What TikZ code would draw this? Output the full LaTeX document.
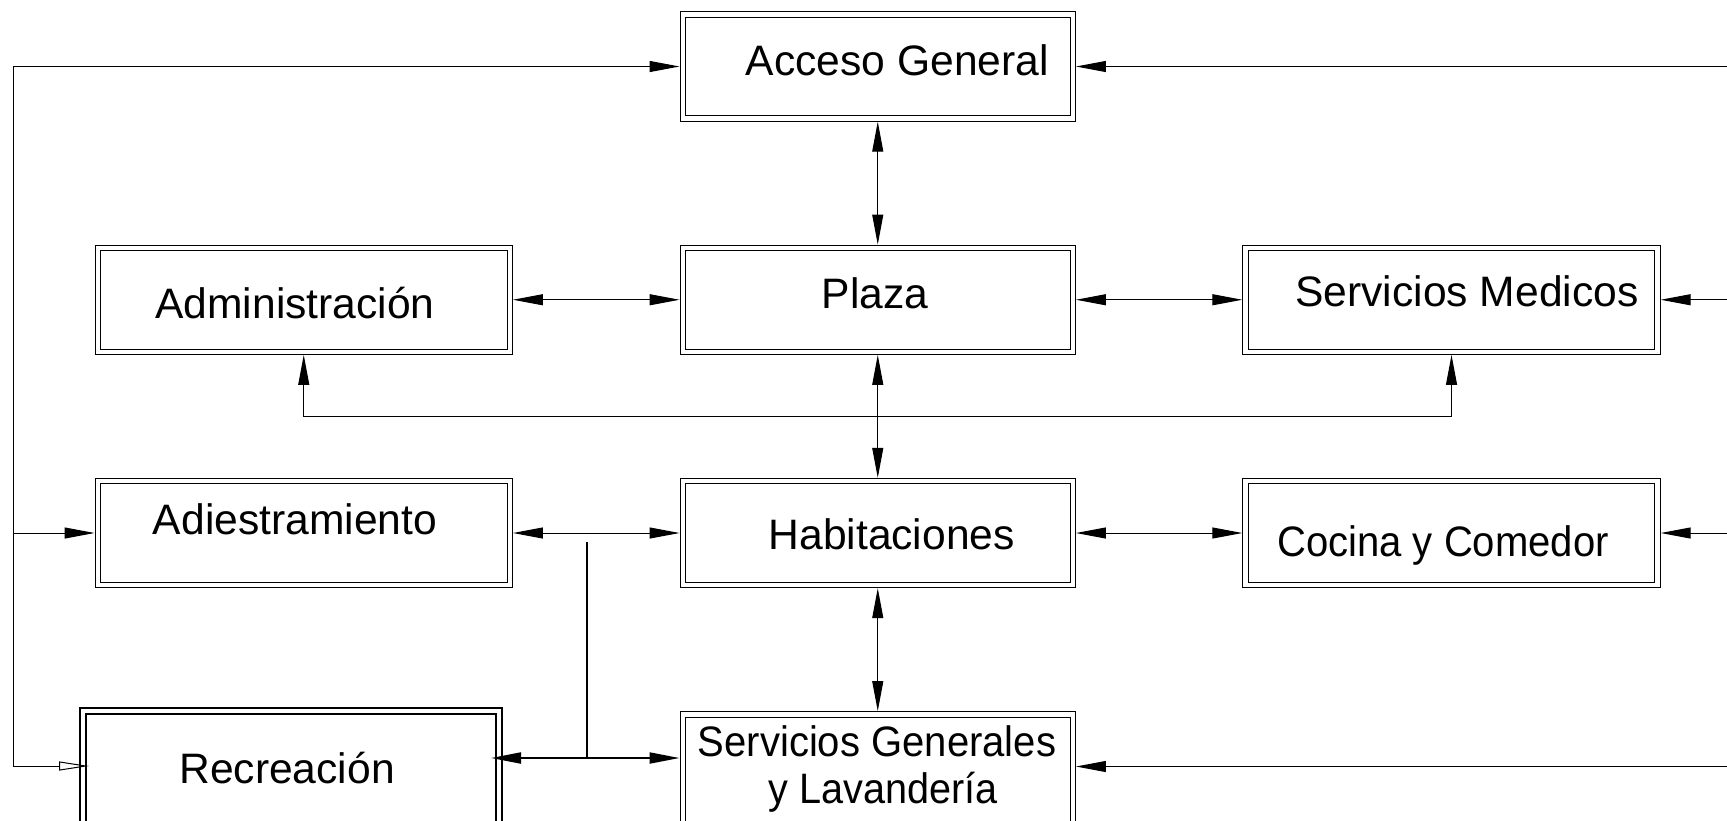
\documentclass[tikz,border=0pt]{standalone}
\usepackage{fontspec}
\setmainfont{Liberation Sans}
\usetikzlibrary{arrows.meta}
\newcommand{\narrowtxt}[2]{\scalebox{#1}[1]{#2}}
\begin{document}
\begin{tikzpicture}[x=0.5pt,y=-0.5pt,
  box/.style={draw=black, line width=0.5pt, double=white, double distance=2.25pt,
    inner sep=0pt, outer sep=1.6pt, minimum height=52pt},
  midbox/.style={box, minimum width=195pt},
  sidebox/.style={box, minimum width=206pt},
  recbox/.style={draw=black, line width=1pt, double=white, double distance=2pt,
    inner sep=0pt, outer sep=2pt, minimum width=208pt, minimum height=60pt},
  lbl/.style={font=\fontsize{21.3}{24}\selectfont, inner sep=0pt, anchor=base},
  arr/.style={line width=0.5pt, -{Triangle[length=15pt,width=5.5pt]}},
  darr/.style={line width=0.5pt, {Triangle[length=15pt,width=5.5pt]}-{Triangle[length=15pt,width=5.5pt]}},
  openarr/.style={line width=0.5pt, -{Triangle[open,length=15pt,width=4.5pt]}}
]
\useasboundingbox (0,0) rectangle (1727,820);
\clip (0,0) rectangle (1727,820);

% boxes
\node[midbox] (acc) at (877.75,66.5) {};
\node[midbox] (plaza) at (877.75,299.75) {};
\node[sidebox] (adm) at (303.75,299.75) {};
\node[sidebox] (med) at (1451.5,299.75) {};
\node[sidebox] (adi) at (303.75,533) {};
\node[midbox] (hab) at (877.75,533) {};
\node[sidebox] (coc) at (1451.5,533) {};
\node[midbox, minimum height=55pt] (sg) at (877.75,769.25) {};
\node[recbox] (rec) at (291,770.7) {};

% labels
\node[lbl] (tacc) at (897.5,75.3) {Acceso General};
\node[lbl] (tplaza) at (875,308.3) {Plaza};
\node[lbl] (tadm) at (295,318.3) {Administración};
\node[lbl] (tmed) at (1467,306.7) {Servicios Medicos};
\node[lbl] (tadi) at (295,534.3) {Adiestramiento};
\node[lbl] (thab) at (891.7,549) {Habitaciones};
\node[lbl] (tcoc) at (1443,556.7) {\narrowtxt{0.94}{Cocina y Comedor}};
\node[lbl] (trec) at (287,783) {Recreación};
\node[lbl] (tsg1) at (877,756) {\narrowtxt{0.94}{Servicios Generales}};
\node[lbl] (tsg2) at (883,803) {\narrowtxt{0.93}{y Lavandería}};

% coordinates
\coordinate (ltop) at (13,66.5);
\coordinate (lbot) at (13,766);
\coordinate (rectip) at (89,766);
\coordinate (redge) at (1728,0);
\coordinate (sgr) at (1728,766.5);
\coordinate (lk) at (0,416);
\coordinate (rtip) at (491,758);
\coordinate (vt) at (587,542);

% left trunk
\draw[arr] (lbot) -- (ltop) -- (acc.west);
\draw[arr] (ltop |- adi.west) -- (adi.west);
\draw[openarr] (lbot) -- (rectip);

% right feeders
\draw[arr] (redge |- acc.east) -- (acc.east);
\draw[arr] (redge |- med.east) -- (med.east);
\draw[arr] (redge |- coc.east) -- (coc.east);
\draw[arr] (sgr) -- (sgr -| sg.east);

% vertical links
\draw[darr] (acc.south) -- (plaza.north);
\draw[darr] (plaza.south) -- (hab.north);
\draw[darr] (hab.south) -- (sg.north);

% horizontal links
\draw[darr] (adm.east) -- (plaza.west);
\draw[darr] (plaza.east) -- (med.west);
\draw[darr] (adi.east) -- (hab.west);
\draw[darr] (hab.east) -- (coc.west);

% admin - medical link
\draw[darr] (adm.south) -- (adm.south |- lk) -- (med.south |- lk) -- (med.south);

% recreation link
\draw[darr, line width=1pt] (rtip) -- (rtip -| sg.west);
\draw[line width=0.8pt] (vt) -- (vt |- rtip);
\end{tikzpicture}
\end{document}
